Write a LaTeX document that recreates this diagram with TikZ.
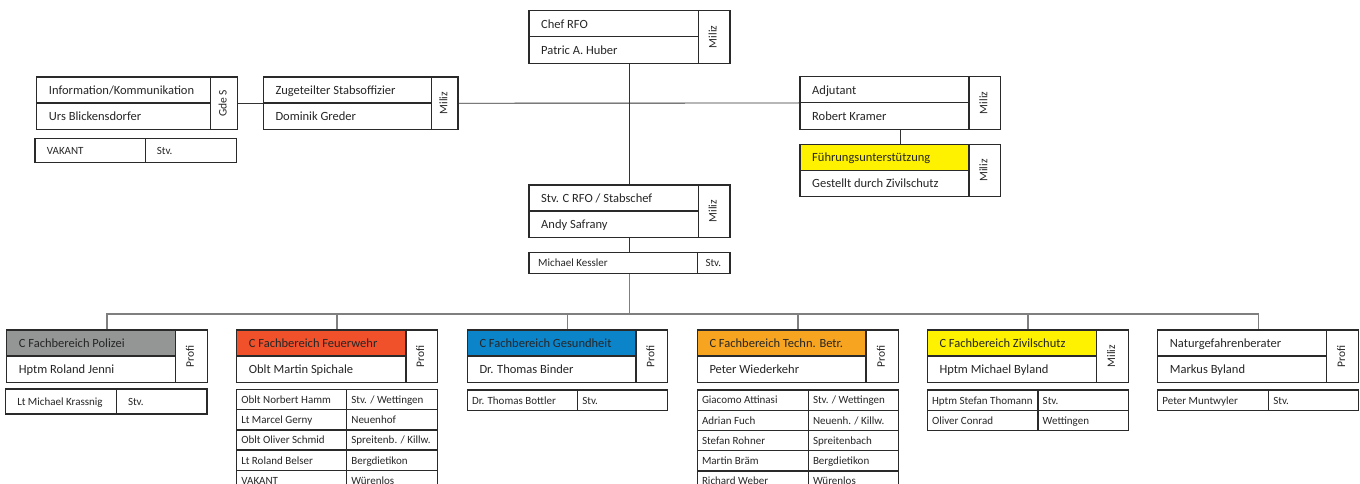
\documentclass[tikz,border=0pt]{standalone}
\usepackage{fontspec}
\setmainfont{Carlito}
\usetikzlibrary{fit}
\definecolor{ln}{HTML}{2A2A2A}
\definecolor{cl}{HTML}{333333}
\definecolor{bl}{HTML}{7F7F7F}
\definecolor{tx}{HTML}{262626}
\definecolor{cgray}{HTML}{949595}
\definecolor{cred}{HTML}{F0502A}
\definecolor{cblue}{HTML}{0B84CA}
\definecolor{corange}{HTML}{F7A521}
\definecolor{cyellow}{HTML}{FFF200}
\tikzset{
 boxline/.style={draw=ln, line width=1.3pt},
 conn/.style={draw=cl, line width=0.9pt},
 busl/.style={draw=bl, line width=1.1pt},
 maintxt/.style={anchor=base west, inner sep=0pt, text=tx, font=\fontsize{12.5}{14}\selectfont},
 sidetxt/.style={rotate=90, inner sep=0pt, text=tx, text height=0.68em, text depth=0.2em, font=\fontsize{11.5}{13}\selectfont},
 tabtxt/.style={anchor=base west, inner sep=0pt, text=tx, font=\fontsize{11}{12}\selectfont},
}
% #1 name, #2 x1, #3 y1, #4 x2, #5 divider x, #6 fill, #7 title, #8 person, #9 side
\newcommand\orgbox[9]{%
 \path[fill=#6] (#2,#3) rectangle (#5,#3+26);
 \node[boxline, fit={(#2,#3) (#4,#3+52.5)}, inner sep=0pt] (#1) {};
 \draw[boxline] (#5,#3) -- (#5,#3+52.5);
 \draw[boxline] (#2,#3+26) -- (#5,#3+26);
 \node[maintxt] (#1-t) at (#2+12,#3+17.6) {#7};
 \node[maintxt] (#1-p) at (#2+12,#3+43.4) {#8};
 \node[sidetxt] (#1-s) at ({(#5+#4)/2},{#3+26.25}) {#9};
}
% #1 name, #2 x1, #3 y1, #4 x2, #5 divider x, #6 y2, #7 left, #8 right
\def\padl{5}\def\padr{4.5}
\newcommand\tabrow[8]{%
 \node[boxline, fit={(#2,#3) (#4,#6)}, inner sep=0pt] (#1) {};
 \draw[boxline] (#5,#3) -- (#5,#6);
 \node[tabtxt] (#1-l) at ({#2+\padl},{(#3+#6)/2+3.8}) {#7};
 \node[tabtxt] (#1-r) at ({#5+\padr},{(#3+#6)/2+3.8}) {#8};
}
\begin{document}
\begin{tikzpicture}[x=1pt,y=-1pt]
\useasboundingbox (0,0) rectangle (1360,484);
\fill[white] (0,0) rectangle (1360,484);
\clip (0,0) rectangle (1360,484);

% top level
\orgbox{chef}{529}{10.7}{730}{698.3}{white}{Chef RFO}{Patric A. Huber}{Miliz}
\orgbox{info}{36.7}{77}{237.7}{210.7}{white}{Information/Kommunikation}{Urs Blickensdorfer}{Gde S}
\orgbox{stab}{263.3}{77}{458}{431.7}{white}{Zugeteilter Stabsoffizier}{Dominik Greder}{Miliz}
\orgbox{adj}{800}{76.7}{1000.7}{969}{white}{Adjutant}{Robert Kramer}{Miliz}
\orgbox{fuehr}{800}{144.3}{1000.7}{969}{cyellow}{Führungsunterstützung}{Gestellt durch Zivilschutz}{Miliz}
\orgbox{stv}{529}{185}{730}{698.3}{white}{Stv. C RFO / Stabschef}{Andy Safrany}{Miliz}

\def\padl{11.7}\def\padr{11}
\tabrow{vakant}{35}{138.3}{236.7}{145.7}{162.7}{VAKANT}{Stv.}
\def\padl{9}\def\padr{8}
\tabrow{kessler}{529}{252.7}{730}{697.3}{273.3}{Michael Kessler}{Stv.}

% departments
\orgbox{pol}{6.7}{330}{207.3}{175.7}{cgray}{C Fachbereich Polizei}{Hptm Roland Jenni}{Profi}
\orgbox{feuer}{236.7}{330}{437.3}{406}{cred}{C Fachbereich Feuerwehr}{Oblt Martin Spichale}{Profi}
\orgbox{gesund}{467.3}{330}{667.7}{636}{cblue}{C Fachbereich Gesundheit}{Dr. Thomas Binder}{Profi}
\orgbox{techn}{697.3}{330}{898.7}{866}{corange}{C Fachbereich Techn. Betr.}{Peter Wiederkehr}{Profi}
\orgbox{zivil}{927.3}{330}{1128.7}{1096.7}{cyellow}{C Fachbereich Zivilschutz}{Hptm Michael Byland}{Miliz}
\orgbox{natur}{1157.7}{330}{1358.7}{1326.7}{white}{Naturgefahrenberater}{Markus Byland}{Profi}

\def\padl{11.5}\def\padr{11.5}
\tabrow{krass}{5.7}{389}{207}{116.3}{414}{Lt Michael Krassnig}{Stv.}

\def\padl{4.5}\def\padr{4.5}
\tabrow{fw1}{236.7}{389.5}{437.3}{346.7}{409.7}{Oblt Norbert Hamm}{Stv. / Wettingen}
\tabrow{fw2}{236.7}{409.7}{437.3}{346.7}{429.9}{Lt Marcel Gerny}{Neuenhof}
\tabrow{fw3}{236.7}{429.9}{437.3}{346.7}{450.1}{Oblt Oliver Schmid}{Spreitenb. / Killw.}
\tabrow{fw4}{236.7}{450.1}{437.3}{346.7}{470.3}{Lt Roland Belser}{Bergdietikon}
\tabrow{fw5}{236.7}{470.3}{437.3}{346.7}{490.5}{VAKANT}{Würenlos}

\tabrow{bottler}{467.3}{390}{667.7}{577.7}{410.7}{Dr. Thomas Bottler}{Stv.}

\tabrow{tb1}{697.3}{390}{898.7}{808.3}{410.3}{Giacomo Attinasi}{Stv. / Wettingen}
\tabrow{tb2}{697.3}{410.3}{898.7}{808.3}{430.5}{Adrian Fuch}{Neuenh. / Killw.}
\tabrow{tb3}{697.3}{430.5}{898.7}{808.3}{450.7}{Stefan Rohner}{Spreitenbach}
\tabrow{tb4}{697.3}{450.7}{898.7}{808.3}{470.9}{Martin Bräm}{Bergdietikon}
\tabrow{tb5}{697.3}{470.9}{898.7}{808.3}{491.1}{Richard Weber}{Würenlos}

\tabrow{zs1}{927.3}{390}{1128.7}{1038}{410.5}{Hptm Stefan Thomann}{Stv.}
\tabrow{zs2}{927.3}{410.5}{1128.7}{1038}{430.7}{Oliver Conrad}{Wettingen}

\tabrow{munt}{1157.7}{390}{1358.7}{1268.7}{410.7}{Peter Muntwyler}{Stv.}

% connectors
\draw[conn] (info.east) -- (stab.west);
\draw[conn] (stab.east) -- (adj.west);
\draw[conn] (chef.south) -- (stv.north);
\draw[conn] (adj.south) -- (fuehr.north);
\draw[conn] (stv.south) -- (kessler.north);
\coordinate (bus) at (629.5,314);
\draw[busl] (kessler.south) -- (bus);
\draw[busl] (pol.north) |- (bus) -| (natur.north);
\foreach \n in {feuer,gesund,techn,zivil}{
 \draw[busl] (\n.north) -- (\n.north |- bus);
}
\end{tikzpicture}
\end{document}
